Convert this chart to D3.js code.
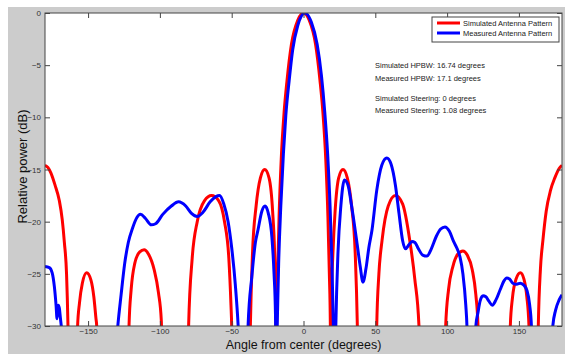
<!DOCTYPE html>
<html>
<head>
<meta charset="utf-8">
<script src="https://cdn.jsdelivr.net/npm/d3@7"></script>
<style>
  body { margin: 0; background: #fff; }
  svg { display: block; font-family: "Liberation Sans", Arial, sans-serif; }
</style>
</head>
<body>
<script>
// [angle (deg), relative power (dB)]; values below -30 are clipped away
var simulated = [
	[-180,-14.6],[-178,-14.8],[-176,-15.3],[-173,-16.5],[-170,-18],[-168,-19.8],[-166.5,-22],[-165,-25],[-164,-30],[-163.5,-34],
	[-158,-34],[-157.3,-30],[-156,-27.8],[-154,-25.9],[-151,-24.9],[-148,-25.6],[-146,-27.2],[-144.5,-29.3],[-144,-30],[-143.5,-34],
	[-122,-34],[-121.5,-30],[-120,-26.5],[-117.5,-24],[-114,-22.9],[-111,-22.7],[-108,-23.1],[-104,-24.6],[-101,-26.8],[-99,-29.5],[-98.3,-34],
	[-80.5,-34],[-80,-30],[-77.5,-23.5],[-74,-20],[-69,-18],[-64,-17.5],[-59,-18],[-55,-20],[-52,-23.5],[-50.5,-28],[-50,-30],[-49.5,-34],
	[-37.5,-34],[-37,-30],[-35.5,-23],[-33,-18.5],[-30,-15.8],[-27,-15],[-24,-15.8],[-21.5,-19],[-20,-23.5],[-19.3,-28],[-19,-36],
	[-18.7,-30],[-18,-25],[-17,-19.5],[-15.5,-14],[-13.5,-9.5],[-11.5,-6.5],[-8.4,-3],[-4,-0.7],[0,0],[4,-0.7],[8.4,-3],[11.5,-6.5],
	[13.5,-9.5],[15.5,-14],[17,-19.5],[18,-25],[18.7,-30],[19,-36],
	[19.3,-28],[20.5,-23],[22,-19],[24.5,-15.8],[27.5,-15],[30.5,-15.8],[33.5,-18.5],[36,-23],[37.5,-30],[38,-34],
	[50.5,-34],[51,-30],[52.5,-25],[54.7,-21.8],[59,-18.5],[64,-17.5],[69,-18.3],[74,-21.8],[77.5,-25.5],[80.4,-30],[81,-34],
	[98.5,-34],[99,-30],[101,-26.5],[104,-24.3],[107.5,-23.1],[111,-22.8],[114,-23.2],[117.5,-24.6],[120,-27],[121.5,-30],[122,-34],
	[143.5,-34],[144,-30],[145.5,-27.3],[148,-25.5],[151,-24.9],[153.5,-25.5],[155.5,-27.2],[157,-30],[157.5,-34],
	[163,-34],[163.5,-30],[165,-24.5],[166.7,-21.8],[169,-19],[172,-17],[175,-15.8],[178,-14.9],[180,-14.6]
];

var measured = [
	[-180,-24.3],[-177,-24.4],[-175,-24.9],[-173.5,-26.2],[-172.3,-28],[-171.6,-29.3],[-170.8,-28],[-170,-28.3],[-169.3,-29.2],[-168.3,-30.5],[-167,-33],
	[-150,-36],
	[-131,-33],[-129.3,-30],[-127,-27],[-124.5,-24],[-122,-22],[-119,-20.6],[-116,-19.6],[-113.5,-19.3],[-110,-19.7],[-106,-20.3],[-103,-20.2],
	[-98,-19.3],[-92,-18.5],[-87,-18.1],[-82,-18.5],[-78,-19.2],[-74,-19.5],[-70,-19.1],[-65,-18.1],[-61,-17.6],[-58.5,-17.5],[-55.5,-18.3],
	[-52.5,-20],[-50,-22.5],[-47.5,-26],[-45.5,-30],[-44.5,-33],
	[-40,-34],
	[-39,-33],[-38.6,-30],[-36,-25.3],[-33.5,-22],[-31.7,-20.8],[-29,-19],[-26.8,-18.5],[-24.5,-19.2],[-22,-21.5],[-20.5,-25],[-19.5,-29],[-19,-34],
	[-18.3,-30],[-17.3,-24],[-15.8,-18.5],[-14,-13.5],[-12.3,-9.8],[-10,-6.5],[-7.5,-3.5],[-4,-1.2],[1,0],[5.5,-0.9],[9.5,-3],[12.5,-6],
	[14.8,-9.5],[16.8,-13.5],[18.5,-18.5],[19.8,-24],[20.8,-30],[21.3,-34],
	[22,-34],[22.5,-30],[24,-23],[26,-18.5],[28.5,-16],[31,-16.5],[33.5,-18.5],[37,-21.8],[39.5,-24.3],[41.4,-25.8],[43.5,-24.5],[45.5,-22.5],
	[47.7,-20.8],[51,-17],[54.5,-14.6],[58,-13.9],[61,-14.5],[64,-16.5],[66.5,-19.2],[69,-21.8],[71,-22.6],[73.5,-22.2],[75.5,-21.9],[77.6,-22],
	[80,-22.6],[83,-23.2],[86,-23.3],[89,-22.6],[92.5,-21.4],[95.5,-20.7],[98.5,-20.5],[101.5,-20.9],[104.5,-21.9],[107,-22.6],[109,-23.4],
	[111,-25],[113,-28],[113.8,-30],[114.5,-34],
	[117,-36],
	[119.3,-33],[120,-30],[121.5,-28.7],[123,-27.6],[125,-27.1],[127,-27.2],[129,-27.6],[131.5,-28],[134,-27.5],[137,-26.5],[139.5,-25.7],
	[141.6,-25.4],[143.5,-25.5],[145.7,-25.9],[148.5,-26],[151,-25.9],[153.5,-26.1],[155.6,-26.6],[157.5,-28],[158.7,-30],[159.5,-34],
	[166,-36],
	[172.5,-33],[173.6,-30],[175.5,-28.5],[178,-27.5],[180,-27]
];

var xTicks = [-150, -100, -50, 0, 50, 100, 150];
var yTicks = [0, -5, -10, -15, -20, -25, -30];
var seriesNames = ["Simulated Antenna Pattern", "Measured Antenna Pattern"];
var notes = ["Simulated HPBW: 16.74 degrees", "Measured HPBW: 17.1 degrees",
	"Simulated Steering: 0 degrees", "Measured Steering: 1.08 degrees"];

var W = 565, H = 354;
var margin = {top: 13, right: 3, bottom: 28, left: 45},
	width = W - margin.left - margin.right,
	height = H - margin.top - margin.bottom;

var svg = d3.select("body").append("svg")
	.attr("width", W)
	.attr("height", H);

// grey figure background, white strip left and top
svg.append("rect")
	.attr("x", 8).attr("y", 7)
	.attr("width", W - 8).attr("height", H - 7)
	.attr("fill", "#cccccc");

var g = svg.append("g")
	.attr("transform", "translate(" + margin.left + "," + margin.top + ")");

g.append("rect")
	.attr("width", width).attr("height", height)
	.attr("fill", "#fff");

var x = d3.scaleLinear().domain([-180, 180]).range([0, width]);
var y = d3.scaleLinear().domain([-30, 0]).range([height, 0]);

g.append("clipPath").attr("id", "plot-clip")
	.append("rect").attr("width", width).attr("height", height);

var line = d3.line()
	.x(function(d) { return x(d[0]); })
	.y(function(d) { return y(d[1]); })
	.curve(d3.curveMonotoneX);

var lines = g.append("g").attr("clip-path", "url(#plot-clip)");

lines.append("path")
	.datum(simulated)
	.attr("d", line)
	.attr("fill", "none")
	.attr("stroke", "#ff0000")
	.attr("stroke-width", 3)
	.attr("stroke-linejoin", "round");

lines.append("path")
	.datum(measured)
	.attr("d", line)
	.attr("fill", "none")
	.attr("stroke", "#0000ff")
	.attr("stroke-width", 3)
	.attr("stroke-linejoin", "round");

// axes, ticks pointing inward
function styleAxis(sel) {
	sel.select(".domain").remove();
	sel.selectAll("line").attr("stroke", "#444");
	sel.selectAll("text").attr("fill", "#333").style("font-size", "8px");
}

g.append("g")
	.attr("transform", "translate(0," + height + ")")
	.call(d3.axisBottom(x).tickValues(xTicks).tickSize(-5).tickPadding(2))
	.call(styleAxis);

g.append("g")
	.call(d3.axisTop(x).tickValues(xTicks).tickSize(-5).tickFormat(""))
	.call(styleAxis);

g.append("g")
	.call(d3.axisLeft(y).tickValues(yTicks).tickSize(-5).tickPadding(4))
	.call(styleAxis);

g.append("g")
	.attr("transform", "translate(" + width + ",0)")
	.call(d3.axisRight(y).tickValues(yTicks).tickSize(-5).tickFormat(""))
	.call(styleAxis);

g.append("rect")
	.attr("width", width).attr("height", height)
	.attr("fill", "none")
	.attr("stroke", "#444")
	.attr("stroke-width", 1);

// axis titles
svg.append("text")
	.attr("x", margin.left + width / 2)
	.attr("y", 349)
	.attr("text-anchor", "middle")
	.attr("fill", "#111")
	.style("font-size", "12.5px")
	.text("Angle from center (degrees)");

svg.append("text")
	.attr("transform", "translate(27," + (margin.top + height / 2 - 3) + ") rotate(-90)")
	.attr("text-anchor", "middle")
	.attr("fill", "#111")
	.style("font-size", "13px")
	.text("Relative power (dB)");

// legend
var legend = svg.append("g").attr("transform", "translate(432,17)");
legend.append("rect")
	.attr("width", 127).attr("height", 25)
	.attr("fill", "#fff")
	.attr("stroke", "#444")
	.attr("stroke-width", 1);

var legendColors = ["#ff0000", "#0000ff"];
var item = legend.selectAll("g.item")
	.data(seriesNames)
	.enter().append("g")
		.attr("class", "item")
		.attr("transform", function(d, i) { return "translate(0," + (6 + i * 10) + ")"; });

item.append("line")
	.attr("x1", 5).attr("x2", 28)
	.attr("stroke", function(d, i) { return legendColors[i]; })
	.attr("stroke-width", 3);

item.append("text")
	.attr("x", 31)
	.attr("dy", "0.35em")
	.attr("fill", "#222")
	.style("font-size", "7.5px")
	.text(function(d) { return d; });

// annotations
var noteY = [65, 78, 98, 110];
svg.selectAll("text.note")
	.data(notes)
	.enter().append("text")
		.attr("class", "note")
		.attr("x", 375)
		.attr("y", function(d, i) { return noteY[i]; })
		.attr("dy", "0.35em")
		.attr("fill", "#222")
		.style("font-size", "7.5px")
		.text(function(d) { return d; });
</script>
</body>
</html>
